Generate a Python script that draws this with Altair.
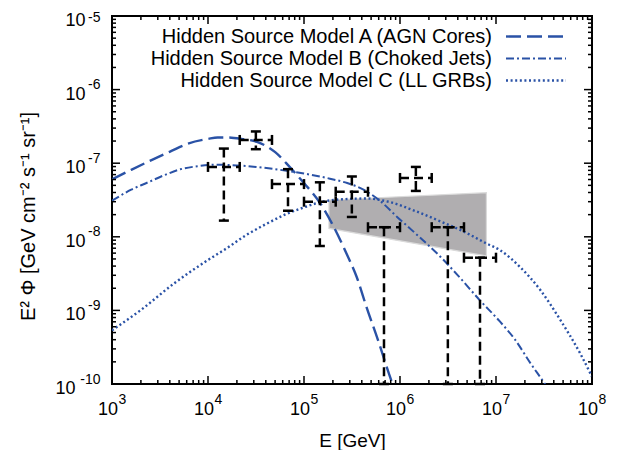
import altair as alt
import pandas as pd

# ---------------- data ----------------
model_names = [
    "Hidden Source Model A (AGN Cores)",
    "Hidden Source Model B (Choked Jets)",
    "Hidden Source Model C (LL GRBs)",
]

# model curves: log10(E/GeV), log10(E^2 Phi)
a_logE = [3.0, 3.2, 3.4, 3.6, 3.8, 4.0, 4.1, 4.2, 4.35, 4.51, 4.7, 4.85, 5.0,
          5.17, 5.3, 5.44, 5.55, 5.65, 5.77, 5.89, 5.95]
a_logF = [-7.22, -7.09, -6.965, -6.845, -6.73, -6.67, -6.65, -6.65, -6.67, -6.71,
          -6.85, -7.05, -7.27, -7.545, -7.84, -8.22, -8.55, -8.95, -9.4, -9.88, -10.1]

b_logE = [3.0, 3.2, 3.375, 3.55, 3.72, 3.9, 4.1, 4.3, 4.5, 4.75, 5.0, 5.27, 5.45,
          5.62, 5.8, 5.97, 6.2, 6.42, 6.6, 6.83, 7.04, 7.2, 7.36, 7.51, 7.56]
b_logF = [-7.51, -7.36, -7.26, -7.16, -7.08, -7.04, -7.02, -7.03, -7.05, -7.09,
          -7.14, -7.21, -7.27, -7.36, -7.52, -7.73, -8.0, -8.27, -8.52, -8.86,
          -9.15, -9.4, -9.72, -10.0, -10.1]

c_logE = [3.0, 3.3, 3.65, 4.0, 4.19, 4.4, 4.6, 4.8, 5.0, 5.17, 5.4, 5.65, 5.9,
          6.14, 6.42, 6.65, 6.9, 7.04, 7.25, 7.46, 7.67, 7.875, 8.0]
c_logF = [-9.27, -8.995, -8.63, -8.315, -8.16, -7.975, -7.83, -7.70, -7.6, -7.53,
          -7.49, -7.48, -7.53, -7.64, -7.79, -7.92, -8.09, -8.18, -8.41, -8.72,
          -9.13, -9.58, -9.90]

# measured points (GeV, GeV cm^-2 s^-1 sr^-1)
pt_E_lo = [1.0e4, 2.14e4, 4.64e4, 1.0e5, 2.14e5, 4.64e5, 1.0e6, 2.14e6, 4.64e6]
pt_E_hi = [2.14e4, 4.64e4, 1.0e5, 2.14e5, 4.64e5, 1.0e6, 2.14e6, 4.64e6, 1.0e7]
pt_F = [8.9e-8, 2.07e-7, 5.2e-8, 3.0e-8, 4.1e-8, 1.35e-8, 6.3e-8, 1.35e-8, 5.2e-9]
pt_F_lo = [1.66e-8, 1.55e-7, 2.26e-8, 7.5e-9, 1.86e-8, 1e-10, 4.2e-8, 1e-10, 1e-10]
pt_F_hi = [1.58e-7, 2.7e-7, 8.3e-8, 5.5e-8, 6.6e-8, 1.35e-8, 8.9e-8, 1.35e-8, 5.2e-9]

# shaded band (two edges)
band_E = [1.82e5, 7.94e6]
band_upper = [3.16e-8, 3.98e-8]
band_lower = [1.30e-8, 5.5e-9]

# axis ticks
x_major = [1e3, 1e4, 1e5, 1e6, 1e7, 1e8]
x_exp_labels = ["3", "4", "5", "6", "7", "8"]
y_major = [1e-10, 1e-9, 1e-8, 1e-7, 1e-6, 1e-5]
y_exp_labels = ["-10", "-9", "-8", "-7", "-6", "-5"]
x_minor = [m * d for d in x_major[:-1] for m in range(2, 10)]
y_minor = [m * d for d in y_major[:-1] for m in range(2, 10)]

# ---------------- styling ----------------
FONT = "Liberation Sans"
BLUE = "#2a52a6"
TICK_COLOR = "black"
model_dash = [[15, 6], [8, 3, 2, 3], [2, 2.6]]
model_width = [2.4, 2.0, 2.4]
BAR_DASH = [9, 5]
W, H = 480, 368
MAJOR_LEN, MINOR_LEN = 8, 4


def label_expr(values, labels):
    expr = f"'{labels[-1]}'"
    for v, lab in zip(reversed(values[:-1]), reversed(labels[:-1])):
        expr = f"datum.value < {v * 1.5:.3e} ? '{lab}' : ({expr})"
    return expr


common = dict(grid=False, domain=False, labelFlush=False, labelOverlap=False,
              ticks=False, tickSize=0, labelColor="black",
              labelFont=FONT, titleFont=FONT, titleColor="black",
              titleFontWeight="normal")

xs = alt.Scale(type="log", domain=[1e3, 1e8], nice=False)
ys = alt.Scale(type="log", domain=[1e-10, 1e-5], nice=False)

ax_x_ten = alt.Axis(orient="bottom", values=x_major, labelExpr="'10'",
                    labelFontSize=18, labelPadding=16, labelOffset=-4.5,
                    labelAlign="center", labelBaseline="top", title=None, **common)
ax_x_exp = alt.Axis(orient="bottom", values=x_major,
                    labelExpr=label_expr(x_major, x_exp_labels), labelFontSize=14,
                    labelAlign="left", labelOffset=6, labelPadding=8,
                    labelBaseline="top", title="E [GeV]", titleFontSize=19,
                    titleX=240, titleY=62, titleAlign="center",
                    titleBaseline="alphabetic", **common)
ax_y_ten = alt.Axis(orient="left", values=y_major, labelExpr="'10'",
                    labelFontSize=18, labelAlign="right", labelBaseline="middle",
                    labelOffset=4.5,
                    labelPadding={"condition": {"test": "datum.value < 2e-10", "value": 37},
                                  "value": 27},
                    title=None, **common)
ax_y_exp = alt.Axis(orient="left", values=y_major,
                    labelExpr=label_expr(y_major, y_exp_labels), labelFontSize=14,
                    labelAlign="right", labelBaseline="middle",
                    labelOffset={"condition": {"test": "datum.value > 5e-6", "value": 1},
                                 "value": -5},
                    labelPadding=12,
                    title="E² Φ [GeV cm⁻² s⁻¹ sr⁻¹]", titleFontSize=20,
                    titleAngle=270, titleX=-84, titleY=200, titleAlign="center",
                    titleBaseline="middle", **common)

# ---------------- tables ----------------
band_df = pd.DataFrame({"E": band_E, "up": band_upper, "lo": band_lower})

curve_dfs = [
    pd.DataFrame({"E": [10 ** v for v in a_logE], "F": [10 ** v for v in a_logF]}),
    pd.DataFrame({"E": [10 ** v for v in b_logE], "F": [10 ** v for v in b_logF]}),
    pd.DataFrame({"E": [10 ** v for v in c_logE], "F": [10 ** v for v in c_logF]}),
]

pts = pd.DataFrame({"Elo": pt_E_lo, "Ehi": pt_E_hi, "F": pt_F,
                    "Flo": pt_F_lo, "Fhi": pt_F_hi})
pts["Ec"] = (pts["Elo"] * pts["Ehi"]) ** 0.5

hcaps = pd.concat([pd.DataFrame({"E": pts["Elo"], "F": pts["F"]}),
                   pd.DataFrame({"E": pts["Ehi"], "F": pts["F"]})])
vcaps = pd.concat([pd.DataFrame({"E": pts["Ec"], "F": pts["Flo"]}),
                   pd.DataFrame({"E": pts["Ec"], "F": pts["Fhi"]})])

# ---------------- layers ----------------
band = alt.Chart(band_df).mark_area(color="#b0aeb0", opacity=1, stroke="#dadada",
                                    strokeWidth=1.2).encode(
    x=alt.X("E:Q", scale=xs, axis=ax_x_ten),
    y=alt.Y("up:Q", scale=ys, axis=ax_y_ten),
    y2="lo:Q",
)

curves = []
for i in range(3):
    curves.append(
        alt.Chart(curve_dfs[i]).mark_line(
            color=BLUE, strokeWidth=model_width[i], strokeDash=model_dash[i],
            interpolate="monotone", clip=True
        ).encode(
            x=alt.X("E:Q", scale=xs, axis=ax_x_exp if i == 0 else None),
            y=alt.Y("F:Q", scale=ys, axis=ax_y_exp if i == 0 else None),
            order=alt.Order("E:Q"),
        )
    )

hbars = alt.Chart(pts).mark_rule(color="black", strokeWidth=2.5,
                                 strokeDash=BAR_DASH).encode(
    x=alt.X("Elo:Q", scale=xs, axis=None),
    x2="Ehi:Q",
    y=alt.Y("F:Q", scale=ys, axis=None),
)
vbars = alt.Chart(pts).mark_rule(color="black", strokeWidth=2.5,
                                 strokeDash=BAR_DASH).encode(
    x=alt.X("Ec:Q", scale=xs, axis=None),
    y=alt.Y("Fhi:Q", scale=ys, axis=None),
    y2="Flo:Q",
)
hcap = alt.Chart(hcaps).mark_tick(color="black", orient="vertical", size=10,
                                  thickness=2.5, opacity=1).encode(
    x=alt.X("E:Q", scale=xs, axis=None),
    y=alt.Y("F:Q", scale=ys, axis=None),
)
vcap = alt.Chart(vcaps).mark_tick(color="black", orient="horizontal", size=10,
                                  thickness=2.5, opacity=1).encode(
    x=alt.X("E:Q", scale=xs, axis=None),
    y=alt.Y("F:Q", scale=ys, axis=None),
)

# inward ticks on all four sides of the frame
tick_layers = []
for vals, ln in [(x_major, MAJOR_LEN), (x_minor, MINOR_LEN)]:
    df = pd.DataFrame({"v": vals})
    for y0, y1 in [(H, H - ln), (0, ln)]:
        tick_layers.append(
            alt.Chart(df).mark_rule(color=TICK_COLOR, strokeWidth=1.5).encode(
                x=alt.X("v:Q", scale=xs, axis=None),
                y=alt.value(y0), y2=alt.value(y1))
        )
for vals, ln in [(y_major, MAJOR_LEN), (y_minor, MINOR_LEN)]:
    df = pd.DataFrame({"v": vals})
    for x0, x1 in [(0, ln), (W, W - ln)]:
        tick_layers.append(
            alt.Chart(df).mark_rule(color=TICK_COLOR, strokeWidth=1.5).encode(
                y=alt.Y("v:Q", scale=ys, axis=None),
                x=alt.value(x0), x2=alt.value(x1))
        )

legend_layers = []
for i, name in enumerate(model_names):
    legend_layers.append(
        alt.Chart(pd.DataFrame({"name": [name]})).mark_text(
            align="right", baseline="alphabetic", font=FONT, fontSize=20,
            color="black"
        ).encode(x=alt.value(380), y=alt.value(27 + 22 * i), text="name:N")
    )
    legend_layers.append(
        alt.Chart(pd.DataFrame({"name": [name]})).mark_rule(
            color=BLUE, strokeWidth=model_width[i], strokeDash=model_dash[i]
        ).encode(x=alt.value(394), x2=alt.value(454), y=alt.value(20.5 + 22 * i))
    )

chart = alt.layer(band, *curves, hbars, vbars, hcap, vcap, *tick_layers,
                  *legend_layers).resolve_axis(
    x="independent", y="independent"
).properties(
    width=W, height=H,
    autosize=alt.AutoSizeParams(type="none"),
    padding={"left": 104, "top": 8, "right": 22, "bottom": 66},
).configure_view(stroke="black", strokeWidth=2)

chart.save("out.html", embed_options={"renderer": "svg", "actions": False})
